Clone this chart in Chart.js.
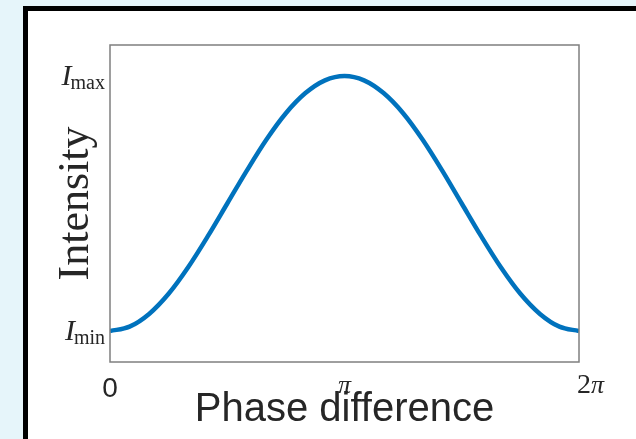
<!DOCTYPE html>
<html>
<head>
<meta charset="utf-8">
<script src="https://cdn.jsdelivr.net/npm/chart.js@4"></script>
<style>
  html, body { margin: 0; padding: 0; width: 636px; height: 439px; overflow: hidden; background: #e6f5fa; }
  #frame { position: absolute; left: 23px; top: 6px; right: 0; bottom: 0; background: #fff;
           border-top: 5px solid #000; border-left: 5px solid #000; }
  #chart { position: absolute; left: 0; top: 0; }
</style>
</head>
<body>
<div id="frame"></div>
<canvas id="chart" width="636" height="439"></canvas>
<script>
// phase difference (rad) and normalised intensity
const phase = [0, 0.262, 0.524, 0.785, 1.047, 1.309, 1.571, 1.833, 2.094, 2.356, 2.618, 2.880, 3.142,
               3.403, 3.665, 3.927, 4.189, 4.451, 4.712, 4.974, 5.236, 5.498, 5.760, 6.021, 6.283];
const intensity = [0, 0.017, 0.067, 0.146, 0.25, 0.371, 0.5, 0.629, 0.75, 0.854, 0.933, 0.983, 1,
                   0.983, 0.933, 0.854, 0.75, 0.629, 0.5, 0.371, 0.25, 0.146, 0.067, 0.017, 0];

// tick labels
const xTickValues = [0, 3.1416, 6.2832];
const xTickLabels = [['', '0'], ['', 'π'], ['2', 'π']];
const yTickValues = [0, 1];
const yTickLabels = [['I', 'min'], ['I', 'max']];

const textColor = '#262626';
const serif = '"Liberation Serif", "Times New Roman", serif';
const sans = '"Liberation Sans", Arial, sans-serif';

// box around plot + tick labels (latex-ish: italic symbols, subscripts)
const boxPlugin = {
  id: 'box',
  afterDraw(chart) {
    const ctx = chart.ctx;
    const a = chart.chartArea;
    ctx.save();
    ctx.strokeStyle = '#7f7f7f';
    ctx.lineWidth = 1.5;
    ctx.strokeRect(a.left, a.top, a.right - a.left, a.bottom - a.top);

    ctx.fillStyle = textColor;
    ctx.textBaseline = 'alphabetic';

    const y = chart.scales.y;
    yTickValues.forEach((v, i) => {
      const py = y.getPixelForValue(v);
      const [main, sub] = yTickLabels[i];
      ctx.font = '20px ' + serif;
      ctx.textAlign = 'right';
      const subX = 105;
      ctx.fillText(sub, subX, py + 13);
      const w = ctx.measureText(sub).width;
      ctx.font = 'italic 30px ' + serif;
      ctx.fillText(main, subX - w + 1, py + 9);
    });

    const x = chart.scales.x;
    xTickValues.forEach((v, i) => {
      const px = x.getPixelForValue(v);
      const [num, sym] = xTickLabels[i];
      ctx.textAlign = 'left';
      if (i === 0) {
        ctx.font = '28px ' + sans;
        ctx.textAlign = 'center';
        ctx.fillText(sym, px, 397);
        return;
      }
      ctx.font = '28px ' + serif;
      const nw = ctx.measureText(num).width;
      ctx.font = 'italic 26px ' + serif;
      const sw = ctx.measureText(sym).width;
      // the 2π label sits to the right of its tick in the reference
      const left = num ? px - 2 : px - (nw + sw) / 2;
      ctx.font = '28px ' + serif;
      ctx.fillText(num, left, 393);
      ctx.font = 'italic 26px ' + serif;
      ctx.fillText(sym, left + nw, 393);
    });
    ctx.restore();
  }
};

new Chart(document.getElementById('chart').getContext('2d'), {
  type: 'line',
  data: {
    datasets: [{
      data: phase.map((p, i) => ({ x: p, y: intensity[i] })),
      borderColor: '#0072bd',
      borderWidth: 4.5,
      pointRadius: 0,
      cubicInterpolationMode: 'monotone',
      fill: false
    }]
  },
  options: {
    responsive: false,
    animation: false,
    layout: { padding: { left: 0, top: 45, right: 57, bottom: 0 } },
    plugins: { legend: { display: false }, tooltip: { enabled: false } },
    scales: {
      x: {
        type: 'linear',
        min: 0,
        max: 6.2832,
        grid: { display: false, drawTicks: false },
        border: { display: false },
        ticks: { display: false },
        afterBuildTicks: s => { s.ticks = xTickValues.map(v => ({ value: v })); },
        afterFit: s => { s.height = 77; },
        title: {
          display: true,
          text: 'Phase difference',
          color: textColor,
          font: { family: sans, size: 40 },
          padding: { top: 0, bottom: 5.5 }
        }
      },
      y: {
        min: -0.1216,
        max: 1.1216,
        grid: { display: false, drawTicks: false },
        border: { display: false },
        ticks: { display: false },
        afterFit: s => { s.width = 110; },
        title: {
          display: true,
          text: 'Intensity',
          color: textColor,
          font: { family: serif, size: 44 },
          padding: { top: 50, bottom: 0 }
        }
      }
    }
  },
  plugins: [boxPlugin]
});
</script>
</body>
</html>
